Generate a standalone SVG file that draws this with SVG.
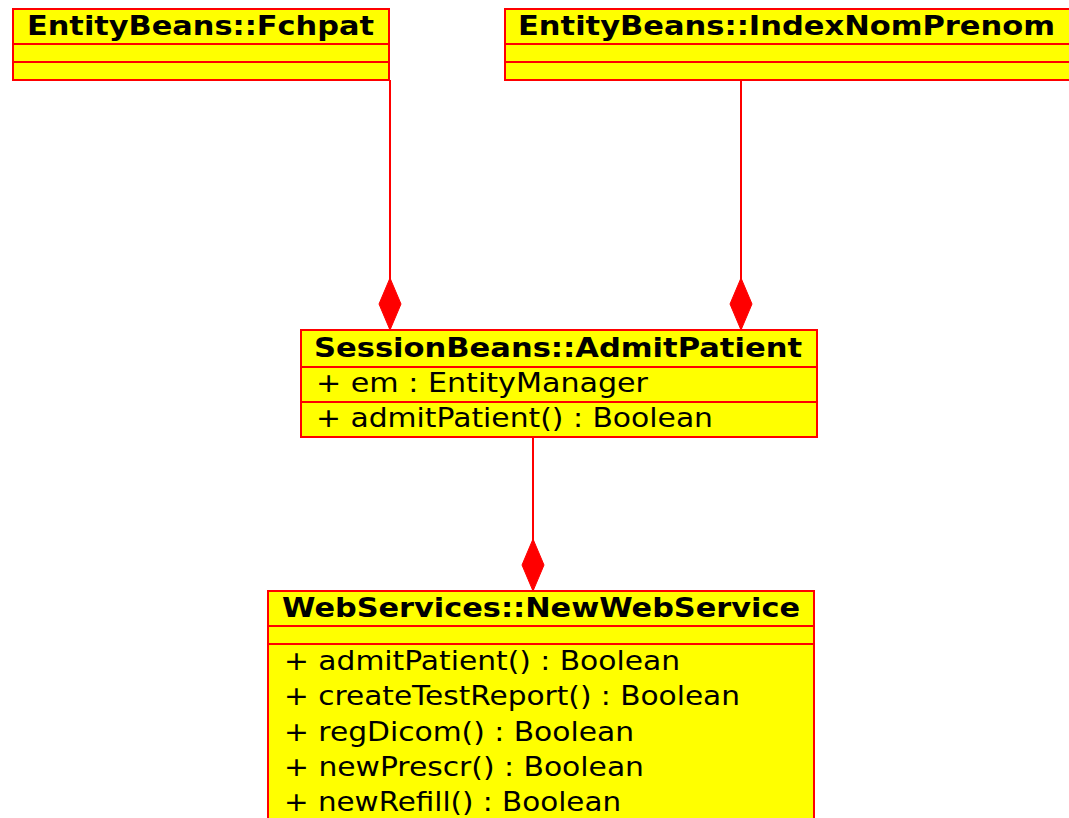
<svg xmlns="http://www.w3.org/2000/svg" width="1069" height="818" viewBox="0 0 1069 818">
  <style>
    .box { fill: #ffff00; stroke: #ff0000; stroke-width: 2; }
    .sep { stroke: #ff0000; stroke-width: 2; }
    .title { font-family: "DejaVu Sans", "Liberation Sans", sans-serif; font-weight: bold; font-size: 27px; fill: #000000; }
    .member { font-family: "DejaVu Sans", "Liberation Sans", sans-serif; font-size: 27px; fill: #000000; }
    .link { stroke: #ff0000; stroke-width: 2; fill: none; }
  </style>
  <defs>
    <!-- filled diamond for composition ends -->
    <marker id="composition" markerUnits="userSpaceOnUse" markerWidth="60" markerHeight="30" refX="52" refY="11" orient="auto" overflow="visible">
      <path d="M0,11 L26,0 L52,11 L26,22 Z" fill="#ff0000" stroke="#ff0000" stroke-width="1"/>
    </marker>
  </defs>

  <rect width="1069" height="818" fill="#ffffff"/>

  <g id="connectors">
    <path class="link" d="M390,80 L390,330" marker-end="url(#composition)"/>
    <path class="link" d="M741,80 L741,330" marker-end="url(#composition)"/>
    <path class="link" d="M533,437 L533,591" marker-end="url(#composition)"/>
  </g>

  <g id="fchpat">
    <rect class="box" x="13" y="9" width="376" height="71"/>
    <line class="sep" x1="13" y1="44" x2="389" y2="44"/>
    <line class="sep" x1="13" y1="62" x2="389" y2="62"/>
    <text class="title" x="27" y="35" textLength="347" lengthAdjust="spacingAndGlyphs">EntityBeans::Fchpat</text>
  </g>

  <g id="indexNomPrenom">
    <rect class="box" x="505" y="9" width="580" height="71"/>
    <line class="sep" x1="505" y1="44" x2="1085" y2="44"/>
    <line class="sep" x1="505" y1="62" x2="1085" y2="62"/>
    <text class="title" x="518" y="35" textLength="537" lengthAdjust="spacingAndGlyphs">EntityBeans::IndexNomPrenom</text>
  </g>

  <g id="admitPatient">
    <rect class="box" x="301" y="330" width="516" height="107"/>
    <line class="sep" x1="301" y1="367" x2="817" y2="367"/>
    <line class="sep" x1="301" y1="402" x2="817" y2="402"/>
    <text class="title" x="314" y="357" textLength="488" lengthAdjust="spacingAndGlyphs">SessionBeans::AdmitPatient</text>
    <text class="member" x="316" y="392" textLength="332" lengthAdjust="spacingAndGlyphs">+ em : EntityManager</text>
    <text class="member" x="316" y="427" textLength="397" lengthAdjust="spacingAndGlyphs">+ admitPatient() : Boolean</text>
  </g>

  <g id="newWebService">
    <rect class="box" x="268" y="591" width="546" height="240"/>
    <line class="sep" x1="268" y1="626" x2="814" y2="626"/>
    <line class="sep" x1="268" y1="644" x2="814" y2="644"/>
    <text class="title" x="282" y="617" textLength="518" lengthAdjust="spacingAndGlyphs">WebServices::NewWebService</text>
    <text class="member" x="284" y="670" textLength="396" lengthAdjust="spacingAndGlyphs">+ admitPatient() : Boolean</text>
    <text class="member" x="284" y="705" textLength="456" lengthAdjust="spacingAndGlyphs">+ createTestReport() : Boolean</text>
    <text class="member" x="284" y="741" textLength="350" lengthAdjust="spacingAndGlyphs">+ regDicom() : Boolean</text>
    <text class="member" x="284" y="776" textLength="360" lengthAdjust="spacingAndGlyphs">+ newPrescr() : Boolean</text>
    <text class="member" x="284" y="811" textLength="337" lengthAdjust="spacingAndGlyphs">+ newRefill() : Boolean</text>
  </g>
</svg>
